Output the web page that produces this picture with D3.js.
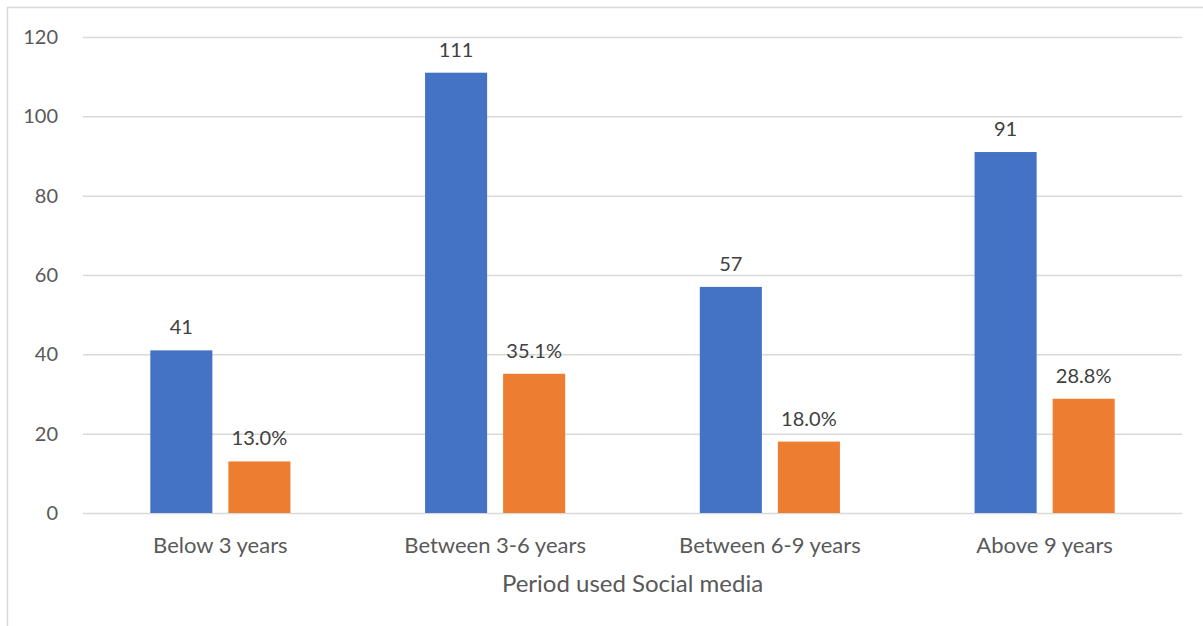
<!DOCTYPE html>
<html>
<head>
<meta charset="utf-8">
<script src="https://cdn.jsdelivr.net/npm/d3@7"></script>
<style>
  body { margin: 0; background: #fff; }
  text { font-family: Lato, "Open Sans", sans-serif; }
</style>
</head>
<body>
<svg width="1203" height="626"></svg>
<script>
// data
var categories = ["Below 3 years", "Between 3-6 years", "Between 6-9 years", "Above 9 years"];
var counts = [41, 111, 57, 91];
var percents = [13.0, 35.1, 18.0, 28.8];
var yTicks = [0, 20, 40, 60, 80, 100, 120];
var colors = ["#4472C4", "#ED7D31"];

var svg = d3.select("svg"),
    margin = {top: 37, right: 21, bottom: 113, left: 83},
    width = 1203 - margin.left - margin.right,
    height = 626 - margin.top - margin.bottom;

// outer chart border (only left/top visible in the crop)
svg.append("rect")
    .attr("x", 7.5).attr("y", 7.5)
    .attr("width", 1250).attr("height", 700)
    .attr("fill", "none")
    .attr("stroke", "#d9d9d9")
    .attr("stroke-width", 1.5);

var g = svg.append("g").attr("transform", "translate(" + margin.left + "," + margin.top + ")");

var x0 = d3.scaleBand()
    .domain(categories)
    .range([0, width])
    .paddingInner(0.49)
    .paddingOuter(0.245);

var x1 = d3.scaleBand()
    .domain([0, 1])
    .range([0, x0.bandwidth()])
    .paddingInner(0.205);

var y = d3.scaleLinear()
    .domain([0, 120])
    .range([height, 0]);

// gridlines
g.append("g")
    .selectAll("line")
    .data(yTicks)
    .enter().append("line")
      .attr("x1", 0).attr("x2", width)
      .attr("y1", function(d) { return y(d) + 0.5; })
      .attr("y2", function(d) { return y(d) + 0.5; })
      .attr("stroke", "#d9d9d9")
      .attr("stroke-width", 1.5);

// y axis labels
var yAxis = g.append("g")
    .call(d3.axisLeft(y).tickValues(yTicks).tickSize(0).tickPadding(25));
yAxis.select(".domain").remove();
yAxis.selectAll("text")
    .attr("fill", "#595959")
    .style("font-size", "20px")
    .style("font-family", "Lato, 'Open Sans', sans-serif");

// x axis labels
var xAxis = g.append("g")
    .attr("transform", "translate(0," + height + ")")
    .call(d3.axisBottom(x0).tickSize(0).tickPadding(24));
xAxis.select(".domain").remove();
xAxis.selectAll("text")
    .attr("fill", "#595959")
    .style("font-size", "22px")
    .style("font-family", "Lato, 'Open Sans', sans-serif");

var rows = categories.map(function(c, i) {
  return {cat: c, vals: [
    {k: 0, v: counts[i], label: String(counts[i])},
    {k: 1, v: percents[i], label: percents[i].toFixed(1) + "%"}
  ]};
});

var grp = g.selectAll(".grp")
    .data(rows)
    .enter().append("g")
      .attr("transform", function(d) { return "translate(" + x0(d.cat) + ",0)"; });

grp.selectAll("rect")
    .data(function(d) { return d.vals; })
    .enter().append("rect")
      .attr("x", function(d) { return x1(d.k); })
      .attr("width", x1.bandwidth())
      .attr("y", function(d) { return y(d.v); })
      .attr("height", function(d) { return height - y(d.v); })
      .attr("fill", function(d) { return colors[d.k]; });

grp.selectAll(".lbl")
    .data(function(d) { return d.vals; })
    .enter().append("text")
      .attr("class", "lbl")
      .attr("x", function(d) { return x1(d.k) + x1.bandwidth() / 2; })
      .attr("y", function(d) { return y(d.v) - 16; })
      .attr("text-anchor", "middle")
      .attr("fill", "#404040")
      .style("font-size", "20px")
      .text(function(d) { return d.label; });

// axis title
svg.append("text")
    .attr("x", margin.left + width / 2)
    .attr("y", 592)
    .attr("text-anchor", "middle")
    .attr("fill", "#595959")
    .style("font-size", "24px")
    .text("Period used Social media");
</script>
</body>
</html>
